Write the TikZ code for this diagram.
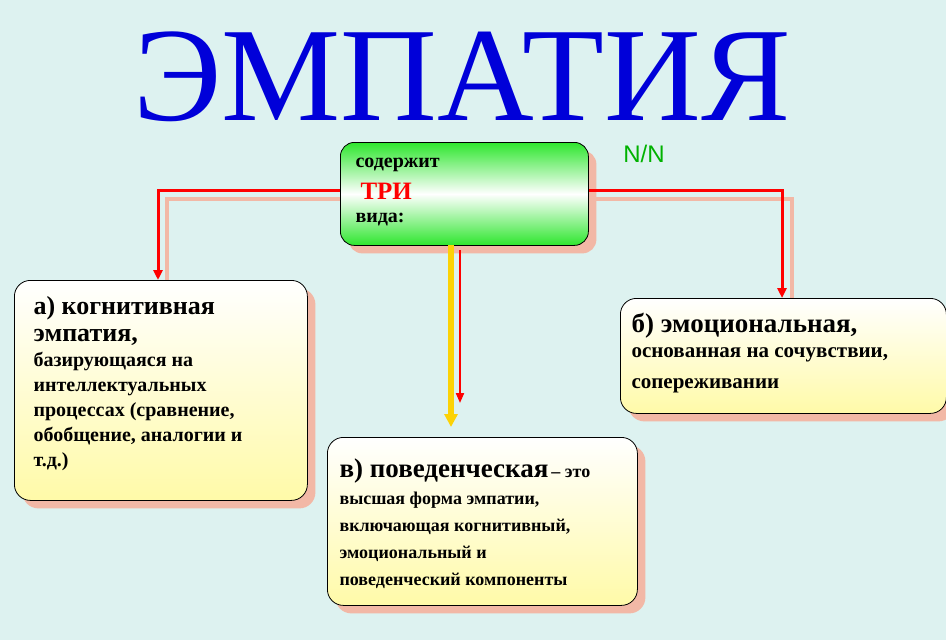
\documentclass[tikz,border=0pt]{standalone}
\usepackage{fontspec}
\setmainfont{Liberation Serif}
\newfontfamily\sansf{Liberation Sans}
\usetikzlibrary{arrows.meta,shadows}
\definecolor{bgc}{HTML}{DDF2F0}
\definecolor{shad}{HTML}{F2B8A6}
\definecolor{pale}{HTML}{FFFAA8}
\definecolor{gr}{HTML}{2EE62E}
\begin{document}
\begin{tikzpicture}[x=1pt,y=-1pt,
  card/.style={draw=black,line width=0.8pt,rounded corners=16pt,top color=white,bottom color=pale,
     drop shadow={shadow xshift=8pt,shadow yshift=-8pt,fill=shad,opacity=1}},
  redline/.style={draw=red,line width=3pt,-{Triangle[length=10pt,width=9pt]}},
  shline/.style={draw=shad,line width=3.5pt}]
\fill[bgc] (0,0) rectangle (946,640);
\useasboundingbox (0,0) rectangle (946,640);
\node[text=blue!85!black,font=\fontsize{134}{134}\selectfont,anchor=base,inner sep=0pt] (title) at (462,120) {ЭМПАТИЯ};
\node[text=green!70!black,font=\sansf\fontsize{24}{24}\selectfont] (nn) at (644,154) {N/N};
% connectors shadows
\coordinate (lc) at (167,199); \coordinate (rc) at (792,199);
\draw[shline] (595,199) -- (rc) -- (792,300);
\draw[shline] (340,199) -- (lc) -- (167,282);
% center box
\node[draw=black,line width=0.8pt,rounded corners=14pt,minimum width=248pt,minimum height=103pt,
  top color=gr,bottom color=gr,middle color=white,anchor=north west,
  drop shadow={shadow xshift=8pt,shadow yshift=-8pt,fill=shad,opacity=1}] (c) at (340,142) {};
\node[anchor=north west,font=\bfseries\fontsize{20}{20}\selectfont] (t1) at (352,155) {содержит};
\node[anchor=north west,text=red,font=\bfseries\fontsize{25}{25}\selectfont] (t2) at (357,180) {ТРИ};
\node[anchor=north west,font=\bfseries\fontsize{20}{20}\selectfont] (t3) at (352,210) {вида:};
% boxes
\node[card,minimum width=293pt,minimum height=220pt,anchor=north west] (a) at (14,280) {};
\node[card,minimum width=326pt,minimum height=115pt,anchor=north west] (b) at (620,298) {};
\node[card,minimum width=310pt,minimum height=168pt,anchor=north west] (v) at (327,437) {};
% arrows
\coordinate (l1) at (158,190); \coordinate (r1) at (782,190);
\draw[redline] (c.west |- l1) -- (l1) -- (a.north -| l1);
\draw[redline] (c.east |- r1) -- (r1) -- (b.north -| r1);
\draw[draw=yellow!70!orange,line width=6pt,-{Triangle[length=13pt,width=13pt]}] (451,245) -- (451,427);
\draw[draw=red,line width=2pt,-{Triangle[length=10pt,width=8pt]}] (460,250) -- (460,403);
% texts
\node[anchor=north west,align=left,font=\bfseries\fontsize{20}{25}\selectfont] (at) at (30,293)
  {{\fontsize{26}{30}\selectfont а) когнитивная}\\[2pt]{\fontsize{26}{30}\selectfont эмпатия,}\\базирующаяся на\\интеллектуальных\\процессах (сравнение,\\обобщение, аналогии и\\т.д.)};
\node[anchor=north west,align=left,font=\bfseries\fontsize{21}{25}\selectfont] (bt) at (628,310)
  {{\fontsize{27}{30}\selectfont б) эмоциональная,}\\основанная на сочувствии,\\[6pt]сопереживании};
\node[anchor=north west,align=left,font=\bfseries\fontsize{18}{27}\selectfont] (vt) at (336,455)
  {{\fontsize{27}{30}\selectfont в) поведенческая}\,– это\\высшая форма эмпатии,\\включающая когнитивный,\\эмоциональный и\\поведенческий компоненты};
\end{tikzpicture}
\end{document}
